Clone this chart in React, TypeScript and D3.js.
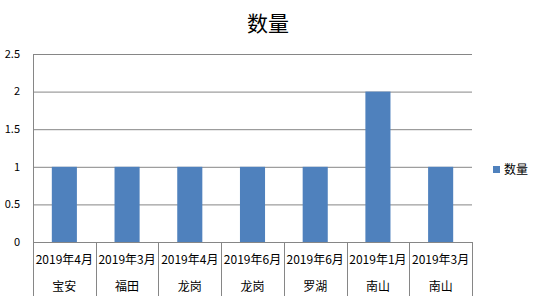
import React from "react";
import * as d3 from "d3";

const dates = ["2019年4月", "2019年3月", "2019年4月", "2019年6月", "2019年6月", "2019年1月", "2019年3月"];
const districts = ["宝安", "福田", "龙岗", "龙岗", "罗湖", "南山", "南山"];
const values = [1, 1, 1, 1, 1, 2, 1];
const yTicks = [0, 0.5, 1, 1.5, 2, 2.5];
const seriesName = "数量";

const W = 535, H = 296;
const left = 33, right = 472, top = 54, bottom = 242;
const font = "'Noto Sans CJK SC', 'Noto Sans', sans-serif";

export default function App() {
  const idx = d3.range(values.length).map(String);
  const x = d3.scaleBand().domain(idx).range([left, right]).paddingInner(0).paddingOuter(0);
  const y = d3.scaleLinear().domain([0, 2.5]).range([bottom, top]);
  const bw = x.bandwidth() * 0.4;
  const grid = "#868686";
  return (
    <svg width={W} height={H} style={{ position: "absolute", left: 0, top: 0, background: "#fff" }} fontFamily={font}>
      <text x={268} y={31} textAnchor="middle" fontSize={21} fill="#000">{seriesName}</text>
      {yTicks.map((t) => (
        <g key={t}>
          <line x1={left} x2={right} y1={y(t) + 0.5} y2={y(t) + 0.5} stroke={grid} strokeWidth={1} />
          <text x={20} y={y(t)} dy="0.35em" textAnchor="end" fontSize={11} fill="#000">{d3.format("")(t)}</text>
        </g>
      ))}
      <line x1={left + 0.5} x2={left + 0.5} y1={top} y2={H} stroke={grid} />
      {idx.map((k, i) => (
        <g key={k}>
          <rect x={(x(k) as number) + (x.bandwidth() - bw) / 2} y={y(values[i])} width={bw} height={bottom - y(values[i])} fill="#4F81BD" />
          <line x1={Math.round((x(k) as number) + x.bandwidth()) + 0.5} x2={Math.round((x(k) as number) + x.bandwidth()) + 0.5} y1={bottom} y2={H} stroke={grid} />
          <text x={(x(k) as number) + x.bandwidth() / 2} y={260} dy="0.35em" textAnchor="middle" fontSize={12} fill="#000">{dates[i]}</text>
          <text x={(x(k) as number) + x.bandwidth() / 2} y={287} dy="0.35em" textAnchor="middle" fontSize={12} fill="#000">{districts[i]}</text>
        </g>
      ))}
      <rect x={493} y={166} width={7} height={7} fill="#4F81BD" />
      <text x={504} y={170} dy="0.35em" fontSize={12} fill="#000">{seriesName}</text>
    </svg>
  );
}
